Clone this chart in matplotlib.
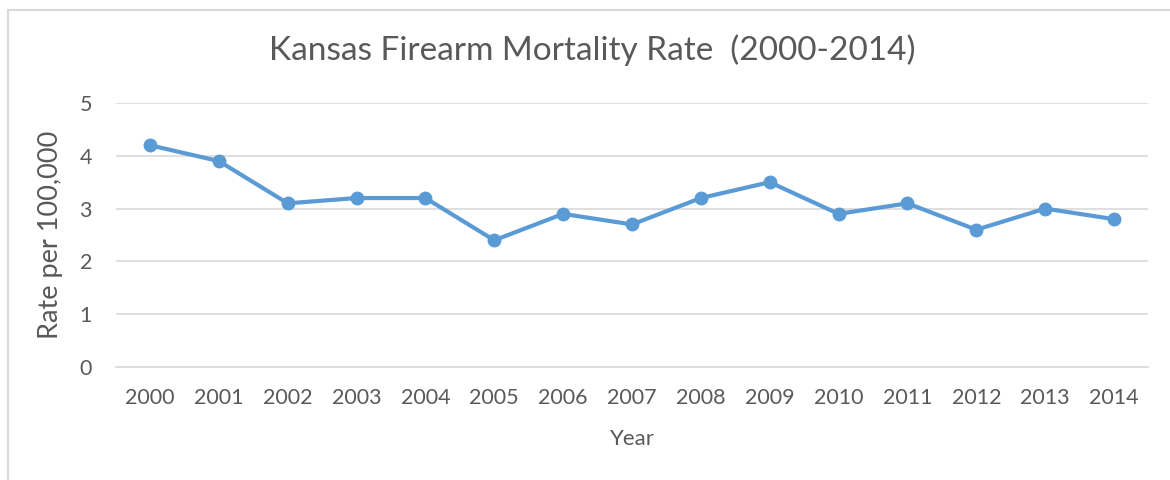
import matplotlib
matplotlib.use("Agg")
import matplotlib.pyplot as plt
from matplotlib.patches import Rectangle

years = ["2000", "2001", "2002", "2003", "2004", "2005", "2006", "2007",
         "2008", "2009", "2010", "2011", "2012", "2013", "2014"]
rates = [4.2, 3.9, 3.1, 3.2, 3.2, 2.4, 2.9, 2.7, 3.2, 3.5, 2.9, 3.1, 2.6, 3.0, 2.8]
y_ticks = [0, 1, 2, 3, 4, 5]

plt.rcParams['font.family'] = ['Lato', 'DejaVu Sans']
text_color = "#595959"

fig = plt.figure(figsize=(11.7, 4.8), dpi=100)
fig.patches.append(Rectangle((8/1170, -0.1), 1.2, (1 - 10/480) + 0.1,
                             transform=fig.transFigure, fill=False,
                             edgecolor="#D9D9D9", linewidth=1.5))

ax = fig.add_axes([115.6/1170, 1 - 367/480, (1148.4 - 115.6)/1170, (367 - 103)/480])
x = list(range(len(years)))
ax.plot(x, rates, color="#5B9BD5", linewidth=3, marker="o", markersize=9,
        markerfacecolor="#5B9BD5", markeredgecolor="#5B9BD5", zorder=3)
ax.set_xlim(-0.5, len(years) - 0.5)
ax.set_ylim(0, 5)
ax.set_yticks(y_ticks)
ax.set_xticks(x)
ax.set_xticklabels(years)
ax.grid(axis="y", color="#D9D9D9", linewidth=1.2)
ax.set_axisbelow(True)
for s in ["top", "right", "left"]:
    ax.spines[s].set_visible(False)
ax.spines["bottom"].set_color("#D9D9D9")
ax.spines["bottom"].set_linewidth(1.2)
ax.tick_params(axis="both", length=0, labelsize=15.5, colors=text_color)
ax.tick_params(axis="x", pad=15)
ax.tick_params(axis="y", pad=17)
ax.set_xlabel("Year", fontsize=16, color=text_color, labelpad=15)
ax.set_ylabel("Rate per 100,000", fontsize=19.5, color=text_color, labelpad=12)
fig.text(0.506, 1 - 50/480, "Kansas Firearm Mortality Rate  (2000-2014)",
         ha="center", va="center", fontsize=24, color=text_color)

fig.savefig("out.png", dpi=100)
